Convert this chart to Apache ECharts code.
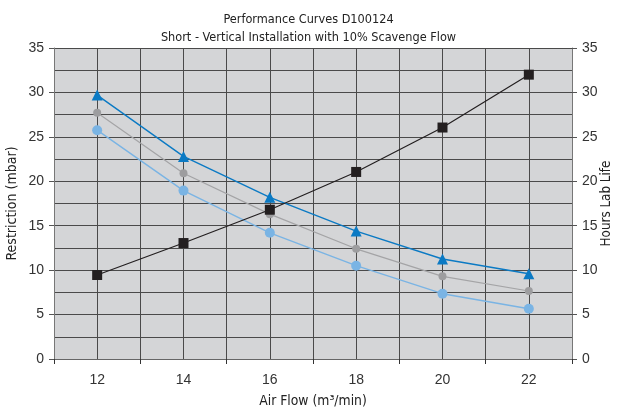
<!DOCTYPE html>
<html><head><meta charset="utf-8">
<script src="https://cdn.jsdelivr.net/npm/echarts@6/dist/echarts.min.js"></script>
<style>html,body{margin:0;padding:0;background:#fff}#c{width:617px;height:412px}</style>
</head><body><div id="c"></div>
<script>
var airFlow = [12, 14, 16, 18, 20, 22];
var restrictionA = [29.7, 22.8, 18.2, 14.4, 11.25, 9.6];   // dark blue triangles
var restrictionB = [27.7, 20.9, 16.3, 12.4, 9.3, 7.65];    // grey
var restrictionC = [25.75, 18.95, 14.2, 10.5, 7.35, 5.65]; // light blue circles
var hoursLife = [9.45, 13.05, 16.8, 21.05, 26.05, 32.0];   // black squares (right axis)
var xTickValues = [11, 13, 15, 17, 19, 21, 23];

function pts(v){ return airFlow.map(function(x,i){ return [x, v[i]]; }); }
var narrow = "'DejaVu Sans Condensed', 'Liberation Sans', sans-serif";
var numFont = {fontFamily:'Liberation Sans', fontSize:14, color:'#333'};
var gridLine = {show:true, lineStyle:{color:'#4a4a4a', width:1}};
var chart = echarts.init(document.getElementById('c'));
chart.setOption({
  animation:false,
  title:{
    text:'Performance Curves D100124\nShort - Vertical Installation with 10% Scavenge Flow',
    left:'center', top:6,
    textStyle:{fontFamily:narrow, fontSize:12.6, fontWeight:'normal', color:'#222', lineHeight:18}
  },
  grid:{left:54, right:45, top:48, bottom:53, show:true, backgroundColor:'#d4d5d7', borderWidth:0,
        containLabel:false, outerBoundsMode:'none'},
  xAxis:[{
    type:'value', min:11, max:23, interval:1,
    name:'Air Flow (m³/min)', nameLocation:'middle', nameGap:35, nameMoveOverlap:false,
    nameTextStyle:{fontFamily:narrow, fontSize:13.8, color:'#222'},
    axisLine:{show:true, lineStyle:{color:'#666'}},
    axisTick:{show:true, length:5, customValues:xTickValues, lineStyle:{color:'#333'}},
    axisLabel:Object.assign({margin:14, customValues:airFlow}, numFont),
    splitLine:{show:false}
  },{
    type:'value', min:11, max:23, interval:1, position:'bottom',
    axisLine:{show:false}, axisTick:{show:false}, axisLabel:{show:false},
    splitLine:gridLine, z:0
  }],
  yAxis:[{
    type:'value', min:0, max:35, interval:5,
    name:'Restriction (mbar)', nameLocation:'middle', nameGap:35, nameMoveOverlap:false,
    nameTextStyle:{fontFamily:narrow, fontSize:14, color:'#222'},
    axisLine:{show:true, lineStyle:{color:'#777'}},
    axisTick:{show:true, length:5, lineStyle:{color:'#555'}},
    axisLabel:Object.assign({margin:10}, numFont),
    splitLine:{show:false}
  },{
    type:'value', min:0, max:35, interval:5, position:'right',
    name:'Hours Lab Life', nameLocation:'middle', nameGap:28, nameMoveOverlap:false,
    nameTextStyle:{fontFamily:narrow, fontSize:13.3, color:'#222'},
    axisLine:{show:true, lineStyle:{color:'#777'}},
    axisTick:{show:true, length:5, lineStyle:{color:'#555'}},
    axisLabel:Object.assign({margin:10}, numFont),
    splitLine:{show:false}
  },{
    type:'value', min:0, max:35, interval:2.5, position:'left',
    axisLine:{show:false}, axisTick:{show:false}, axisLabel:{show:false},
    splitLine:gridLine
  }],
  series:[
    {type:'line', data:pts(restrictionB), symbol:'circle', symbolSize:8,
     lineStyle:{color:'#a4a4a6', width:1.2}, itemStyle:{color:'#9d9d9f'}},
    {type:'line', data:pts(restrictionC), symbol:'circle', symbolSize:10,
     lineStyle:{color:'#7ab4e4', width:1.4}, itemStyle:{color:'#7ab4e4'}},
    {type:'line', data:pts(restrictionA), symbol:'triangle', symbolSize:11,
     lineStyle:{color:'#0b7ac4', width:1.4}, itemStyle:{color:'#0b7ac4'}},
    {type:'line', yAxisIndex:1, data:pts(hoursLife), symbol:'rect', symbolSize:10,
     lineStyle:{color:'#231f20', width:1.2}, itemStyle:{color:'#231f20'}}
  ]
});
</script></body></html>
